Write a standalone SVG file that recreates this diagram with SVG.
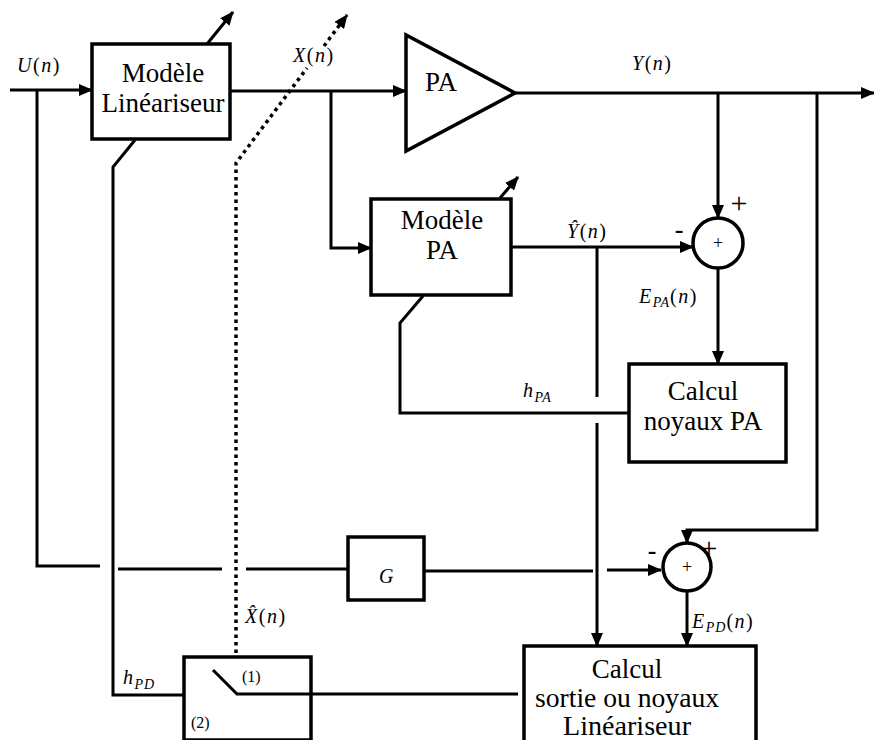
<svg xmlns="http://www.w3.org/2000/svg" width="874" height="740" viewBox="0 0 874 740">
<style>
.ln{fill:none;stroke:#000;stroke-width:3;stroke-linejoin:miter}
.dot{fill:none;stroke:#000;stroke-width:3.5;stroke-dasharray:3.5 4}
.box{fill:#fff;stroke:#000;stroke-width:3.5}
text{font-family:"Liberation Serif","DejaVu Serif",serif;fill:#000}
.lbl{font-size:27px;text-anchor:middle}
.m{font-size:20px;letter-spacing:1.5px}
.i{font-style:italic}
.sub{font-size:14px;font-style:italic;letter-spacing:1px}
.sm{font-size:16px}
.sgn{text-anchor:middle}
</style>
<defs>
<marker id="ah" markerUnits="userSpaceOnUse" markerWidth="14" markerHeight="12" refX="13" refY="6" orient="auto">
<path d="M0,0 L14,6 L0,12 z" fill="#000"/>
</marker>
</defs>
<rect width="874" height="740" fill="#fff"/>

<g id="connectors">
<path class="ln" d="M10,90 H92" marker-end="url(#ah)"/>
<path class="ln" d="M37,90 V566 H100"/>
<path class="ln" d="M118,569 H222"/>
<path class="ln" d="M246,569 H348"/>
<path class="ln" d="M424,571 H593"/>
<path class="ln" d="M607,570 H661" marker-end="url(#ah)"/>
<path class="ln" d="M230,91 H406" marker-end="url(#ah)"/>
<path class="ln" d="M331,91 V248 H371" marker-end="url(#ah)"/>
<path class="ln" d="M515,93 H874" marker-end="url(#ah)"/>
<path class="ln" d="M718,93 V218" marker-end="url(#ah)"/>
<path class="ln" d="M817,93 V530 H687 V543" marker-end="url(#ah)"/>
<path class="ln" d="M511,247 H693" marker-end="url(#ah)"/>
<path class="ln" d="M597,247 V397"/>
<path class="ln" d="M597,423 V646" marker-end="url(#ah)"/>
<path class="ln" d="M718,268 V364" marker-end="url(#ah)"/>
<path class="ln" d="M629,413 H400 V323 L423,296"/>
<path class="ln" d="M135,140 L113,167 V695 H192"/>
<path class="ln" d="M207,44 L233,12" marker-end="url(#ah)"/>
<path class="ln" d="M500,198 L518,177" marker-end="url(#ah)"/>
<path class="dot" d="M236,668 V163 L307,68"/>
<path class="dot" d="M324,46 L347,15" marker-end="url(#ah)"/>
<path class="ln" d="M687,591 V646" marker-end="url(#ah)"/>
</g>

<g id="linearizer">
<rect class="box" x="92" y="44" width="138" height="95"/>
<text class="lbl" x="163" y="82">Modèle</text>
<text class="lbl" x="163" y="112">Linéariseur</text>
</g>

<g id="pa">
<path class="box" d="M406,35 L406,151 L515,93 z"/>
<text class="lbl" x="441" y="91">PA</text>
</g>

<g id="model-pa">
<rect class="box" x="371" y="199" width="140" height="96"/>
<text class="lbl" x="442" y="229">Modèle</text>
<text class="lbl" x="442" y="259">PA</text>
</g>

<g id="sum-pa">
<circle class="box" cx="718" cy="243" r="25" stroke-width="3"/>
<text class="sgn" x="718" y="249" font-size="18" font-family="Liberation Sans, sans-serif">+</text>
<text class="sgn" x="739" y="213" font-size="30" font-family="Liberation Sans, sans-serif">+</text>
<text class="sgn" x="679" y="238" font-size="26" font-weight="bold" font-family="Liberation Sans, sans-serif">-</text>
</g>

<g id="calc-pa">
<rect class="box" x="629" y="364" width="157" height="98"/>
<text class="lbl" x="703" y="400">Calcul</text>
<text class="lbl" x="703" y="430">noyaux PA</text>
</g>

<g id="gain">
<rect class="box" x="348" y="537" width="76" height="63"/>
<text class="m i" x="387" y="583" text-anchor="middle">G</text>
</g>

<g id="sum-pd">
<circle class="box" cx="687" cy="567" r="24" stroke-width="3"/>
<text class="sgn" x="687" y="573" font-size="18" font-family="Liberation Sans, sans-serif">+</text>
<text class="sgn" x="709" y="558" font-size="30" font-family="Liberation Sans, sans-serif">+</text>
<text class="sgn" x="652" y="559" font-size="26" font-weight="bold" font-family="Liberation Sans, sans-serif">-</text>
</g>

<g id="calc-lin">
<path class="box" d="M524,742 V646 H756 V742"/>
<text class="lbl" x="627" y="678" font-size="26">Calcul</text>
<text class="lbl" x="627" y="707" font-size="25" textLength="184" lengthAdjust="spacingAndGlyphs">sortie ou noyaux</text>
<text class="lbl" x="627" y="735" font-size="25" textLength="128" lengthAdjust="spacingAndGlyphs">Linéariseur</text>
</g>

<g id="switch">
<rect class="box" x="184" y="657" width="127" height="83"/>
<path class="ln" d="M213,670 L237,694 H518"/>
<text class="sm" x="242" y="682">(1)</text>
<text class="sm" x="191" y="728">(2)</text>
</g>

<g id="labels">
<text class="m" x="17" y="72"><tspan class="i">U</tspan>(<tspan class="i">n</tspan>)</text>
<text class="m" x="293" y="62"><tspan class="i">X</tspan>(<tspan class="i">n</tspan>)</text>
<text class="m" x="632" y="70"><tspan class="i">Y</tspan>(<tspan class="i">n</tspan>)</text>
<text class="m" x="567" y="238"><tspan class="i">Ŷ</tspan>(<tspan class="i">n</tspan>)</text>
<text class="m" x="245" y="623"><tspan class="i">X̂</tspan>(<tspan class="i">n</tspan>)</text>
<text class="m" x="639" y="303"><tspan class="i">E</tspan><tspan class="sub" dy="4">PA</tspan><tspan dy="-4">(</tspan><tspan class="i">n</tspan>)</text>
<text class="m" x="692" y="628"><tspan class="i">E</tspan><tspan class="sub" dy="4">PD</tspan><tspan dy="-4">(</tspan><tspan class="i">n</tspan>)</text>
<text class="m" x="523" y="397" font-size="24"><tspan class="i">h</tspan><tspan class="sub" dy="5">PA</tspan></text>
<text class="m" x="123" y="684" font-size="24"><tspan class="i">h</tspan><tspan class="sub" dy="5">PD</tspan></text>
</g>
</svg>
